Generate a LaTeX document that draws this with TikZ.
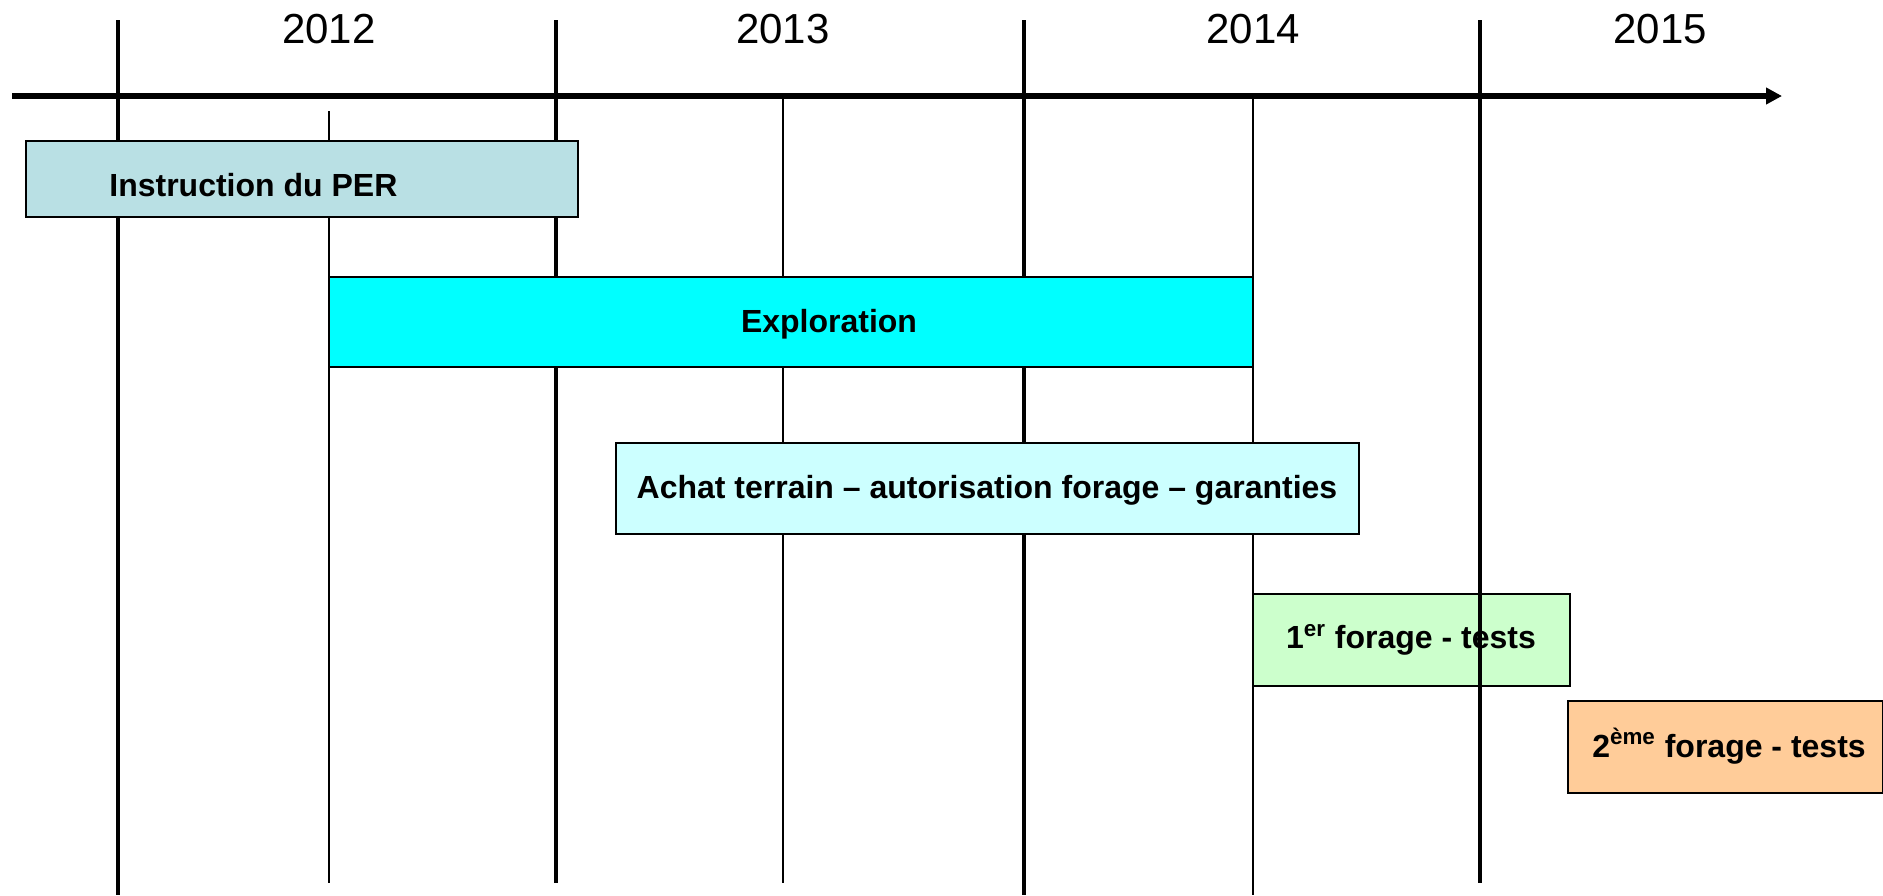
\documentclass[tikz,border=0pt]{standalone}
\usepackage{fontspec}
\setmainfont{Liberation Sans}
\usetikzlibrary{arrows.meta}
\definecolor{boxA}{RGB}{185,224,228}
\definecolor{boxB}{RGB}{0,255,255}
\definecolor{boxC}{RGB}{204,255,255}
\definecolor{boxD}{RGB}{204,255,204}
\definecolor{boxE}{RGB}{255,204,153}
\tikzset{
  thickline/.style={line width=2.4pt},
  thinline/.style={line width=1.2pt},
  phase/.style={draw=black, line width=0.9pt},
  phaselabel/.style={font=\fontsize{16}{19}\selectfont\bfseries, inner sep=0pt},
  yearlabel/.style={font=\fontsize{21}{25}\selectfont, inner sep=0pt},
}
\begin{document}
\begin{tikzpicture}[x=0.5pt,y=-0.5pt]
\useasboundingbox (0,0) rectangle (1883,895);
% year labels
\node[yearlabel] (y2012) at (329,29) {2012};
\node[yearlabel] (y2013) at (783,29) {2013};
\node[yearlabel] (y2014) at (1253,29) {2014};
\node[yearlabel] (y2015) at (1660,29) {2015};
% coordinates
\coordinate (a0) at (12,96);
\coordinate (a1) at (1782,96);
\coordinate (t1a) at (118,20);   \coordinate (t1b) at (118,895);
\coordinate (t2a) at (556,20);   \coordinate (t2b) at (556,883);
\coordinate (t3a) at (1024,20);  \coordinate (t3b) at (1024,895);
\coordinate (t4a) at (1480,20);  \coordinate (t4b) at (1480,883);
\coordinate (s1a) at (329,111);  \coordinate (s1b) at (329,883);
\coordinate (s2a) at (783,96);   \coordinate (s2b) at (783,883);
\coordinate (s3a) at (1253,96);  \coordinate (s3b) at (1253,895);
% thin lines
\draw[thinline] (s1a) -- (s1b);
\draw[thinline] (s2a) -- (s2b);
\draw[thinline] (s3a) -- (s3b);
% thick lines
\draw[thickline] (t1a) -- (t1b);
\draw[thickline] (t2a) -- (t2b);
\draw[thickline] (t3a) -- (t3b);
% axis
\draw[line width=2.8pt, -{Triangle[length=8pt,width=8pt]}] (a0) -- (a1);
% boxes
\draw[phase, fill=boxA] (26,141) rectangle (578,217);
\node[phaselabel, anchor=west] (instr) at (109,185) {Instruction du PER};
\draw[phase, fill=boxB] (329,277) rectangle (1253,367);
\node[phaselabel] (explo) at (829,324) {Exploration};
\draw[phase, fill=boxC] (616,443) rectangle (1359,534);
\node[phaselabel] (achat) at (987,490) {Achat terrain – autorisation forage – garanties};
\draw[phase, fill=boxD] (1253,594) rectangle (1570,686);
\node[phaselabel] (for1) at (1411,640) {1\textsuperscript{er} forage - tests};
\draw[thickline] (t4a) -- (t4b);
\draw[phase, fill=boxE] (1568,701) rectangle (1883,793);
\node[phaselabel] (for2) at (1729,746) {2\textsuperscript{ème} forage - tests};
\end{tikzpicture}
\end{document}
